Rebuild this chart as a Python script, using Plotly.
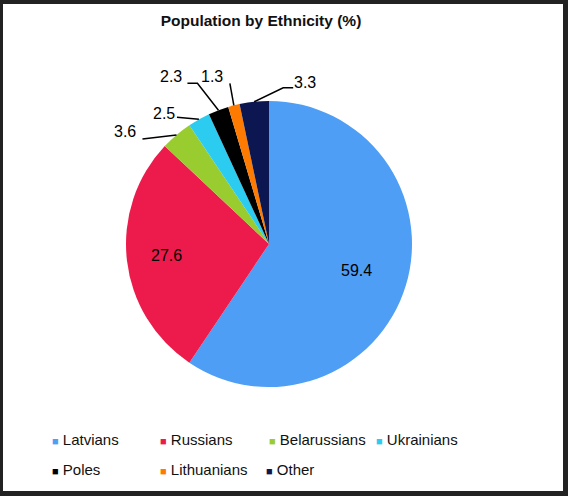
import math
import plotly.graph_objects as go

# ---- data ----
categories = ["Latvians", "Russians", "Belarussians", "Ukrainians", "Poles", "Lithuanians", "Other"]
values = [59.4, 27.6, 3.6, 2.5, 2.3, 1.3, 3.3]
value_labels = ["59.4", "27.6", "3.6", "2.5", "2.3", "1.3", "3.3"]

# ---- style ----
colors = ["#4f9ef5", "#ec1b4b", "#99cc2e", "#2ccbf0", "#000000", "#ff7a00", "#0c1752"]
W, H = 568, 496
CX, CY, R = 269, 244, 143          # pie centre / radius in px
FONT = "Liberation Sans, Arial, sans-serif"

# label placement inside big slices: fraction of radius along the slice mid-angle
inside_layout = {"Latvians": 0.64, "Russians": 0.72}
# label placement for small slices: offsets (px) from slice outer-edge midpoint
outside_layout = {
    "Belarussians": dict(text=(-51, -3), line=[(-34, 4)]),
    "Ukrainians": dict(text=(-35, -6), line=[(-22, -2)]),
    "Poles": dict(text=(-47, -34), line=[(-21, -27), (-31, -27)]),
    "Lithuanians": dict(text=(-22, -29), line=[(-4, -22)]),
    "Other": dict(text=(51, -19), line=[(29, -14), (39, -14)]),
}
# legend grid: (left px, centre-y px) of each entry
legend_pos = [(12, 439), (120, 439), (229, 439), (336, 439), (12, 469), (120, 469), (226, 469)]


def px(x, y):
    return x / W, 1 - y / H


fig = go.Figure()
fig.add_trace(go.Pie(
    labels=categories, values=values, sort=False, direction="clockwise", rotation=0,
    marker=dict(colors=colors, line=dict(width=0)),
    textinfo="none",
    domain=dict(x=[(CX - R) / W, (CX + R) / W], y=[1 - (CY + R) / H, 1 - (CY - R) / H]),
    showlegend=False, hoverinfo="label+value",
))

legend_font = dict(family=FONT, size=15, color="#111111")
legends = {}
# legend entries: small square swatch placed right next to the name
for i, (c, col) in enumerate(zip(categories, colors)):
    key = "legend" if i == 0 else "legend%d" % (i + 1)
    fig.add_trace(go.Scatter(
        x=[None], y=[None], mode="markers",
        name='<span style="color:%s;font-size:11px">■</span> %s' % (col, c),
        marker=dict(symbol="square", size=7, color="rgba(0,0,0,0)"),
        legend=key, hoverinfo="skip",
    ))
    lx, ly = legend_pos[i]
    legends[key] = dict(x=lx / W, y=1 - ly / H, xanchor="left", yanchor="middle",
                        orientation="h", font=legend_font,
                        bgcolor="rgba(0,0,0,0)", borderwidth=0)

# data labels + leader lines computed from slice angles
total = sum(values)
cum = 0.0
shapes = [dict(type="rect", xref="paper", yref="paper", x0=3 / W, x1=563 / W,
               y0=1 - 491 / H, y1=1 - 4 / H, fillcolor="white", line=dict(width=0), layer="below")]
annotations = []
label_font = dict(family=FONT, size=16, color="black")
for c, v, lab in zip(categories, values, value_labels):
    mid = (cum + v / 2) / total
    cum += v
    th = 2 * math.pi * mid
    if c in inside_layout:
        f = inside_layout[c]
        tx, ty = px(CX + f * R * math.sin(th), CY - f * R * math.cos(th))
    else:
        ex, ey = CX + R * math.sin(th), CY - R * math.cos(th)
        cfg = outside_layout[c]
        pts = [(ex, ey)] + [(ex + dx, ey + dy) for dx, dy in cfg["line"]]
        path = " ".join(("M" if k == 0 else "L") + "%.4f,%.4f" % px(x, y) for k, (x, y) in enumerate(pts))
        shapes.append(dict(type="path", xref="paper", yref="paper", path=path,
                           line=dict(color="black", width=1.5)))
        tx, ty = px(ex + cfg["text"][0], ey + cfg["text"][1])
    annotations.append(dict(x=tx, y=ty, xref="paper", yref="paper", text=lab, showarrow=False,
                            xanchor="center", yanchor="middle", font=label_font))

fig.update_layout(
    width=W, height=H,
    margin=dict(l=0, r=0, t=0, b=0),
    paper_bgcolor="#222222", plot_bgcolor="rgba(0,0,0,0)",
    title=dict(text="<b>Population by Ethnicity (%)</b>", x=261 / W, y=1 - 21 / H,
               xanchor="center", yanchor="middle",
               font=dict(family=FONT, size=15.5, color="#111111")),
    xaxis=dict(visible=False), yaxis=dict(visible=False),
    shapes=shapes, annotations=annotations,
    **legends,
)

fig.write_html("out.html", config={"displayModeBar": False},
               post_script="document.body.style.margin='0px';")
